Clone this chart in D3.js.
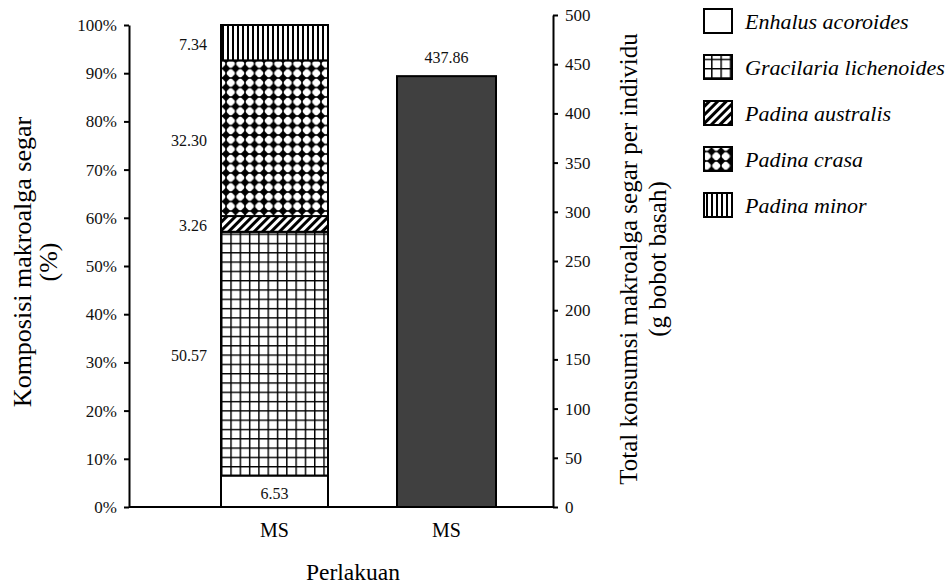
<!DOCTYPE html>
<html><head><meta charset="utf-8">
<script src="https://cdn.jsdelivr.net/npm/d3@7"></script>
<style>body{margin:0;background:#fff}svg{display:block}</style>
</head><body><svg id="c" width="948" height="586"></svg>
<script>
// ---- data ----
const species = ["Enhalus acoroides","Gracilaria lichenoides","Padina australis","Padina crasa","Padina minor"];
const composition = [6.53, 50.57, 3.26, 32.30, 7.34];
const compLabels = ["6.53","50.57","3.26","32.30","7.34"];
const categoryIds = ["komposisi","total"];
const categoryLabels = ["MS","MS"];
const totalConsumption = [437.86];
const totalLabels = ["437.86"];
const leftTicks = [0,10,20,30,40,50,60,70,80,90,100];
const rightTicks = [0,50,100,150,200,250,300,350,400,450,500];
const leftTitle = ["Komposisi makroalga segar","(%)"];
const rightTitle = ["Total konsumsi makroalga segar per individu","(g bobot basah)"];
const xTitle = "Perlakuan";

const svg = d3.select("#c");
const FONT = "'Liberation Serif','Times New Roman',serif";

// scales
const x = d3.scaleBand().domain(categoryIds).range([188.5, 532.5]).padding(0);
const yL = d3.scaleLinear().domain([0,100]).range([507,25]);
const yR = d3.scaleLinear().domain([0,500]).range([507,15]);
const barW = [107, 99];

// patterns
const defs = svg.append("defs");
const pIds = ["pEnh","pGrid","pHatch","pDiam","pVert"];
let p;
p = defs.append("pattern").attr("id","pEnh").attr("patternUnits","userSpaceOnUse").attr("width",10).attr("height",10);
p.append("rect").attr("width",10).attr("height",10).attr("fill","#fff");

p = defs.append("pattern").attr("id","pGrid").attr("patternUnits","userSpaceOnUse").attr("width",9.3).attr("height",9.3).attr("x",221).attr("y",1);
p.append("rect").attr("width",9.3).attr("height",9.3).attr("fill","#fff");
p.append("path").attr("d","M0.7,0V9.3M0,0.7H9.3").attr("stroke","#000").attr("stroke-width",1.5);

p = defs.append("pattern").attr("id","pHatch").attr("patternUnits","userSpaceOnUse").attr("width",6).attr("height",6).attr("patternTransform","rotate(45)");
p.append("rect").attr("width",6).attr("height",6).attr("fill","#fff");
p.append("rect").attr("width",3).attr("height",6).attr("fill","#000");

const D = 9.5, R = 4.4;
p = defs.append("pattern").attr("id","pDiam").attr("patternUnits","userSpaceOnUse").attr("width",D).attr("height",D).attr("x",226).attr("y",2);
p.append("rect").attr("width",D).attr("height",D).attr("fill","#fff");
p.append("path").attr("d",`M0,0H${D}M0,${D}H${D}M0,0V${D}M${D},0V${D}`).attr("stroke","#000").attr("stroke-width",1.4);
[[0,0],[D,0],[0,D],[D,D]].forEach(([a,b]) => {
  p.append("path").attr("d",`M${a-R},${b}L${a},${b-R}L${a+R},${b}L${a},${b+R}Z`).attr("fill","#000");
});

p = defs.append("pattern").attr("id","pVert").attr("patternUnits","userSpaceOnUse").attr("width",5).attr("height",5).attr("x",222);
p.append("rect").attr("width",5).attr("height",5).attr("fill","#fff");
p.append("rect").attr("width",2).attr("height",5).attr("fill","#000");

// stacked bar
const stackData = [Object.fromEntries(species.map((s,i)=>[s,composition[i]]))];
const series = d3.stack().keys(species)(stackData);
const cx0 = x(categoryIds[0]) + x.bandwidth()/2;
const bx0 = cx0 - barW[0]/2;
svg.append("g").selectAll("rect").data(series).join("rect")
  .attr("x", bx0).attr("width", barW[0])
  .attr("y", d => yL(d[0][1])).attr("height", d => yL(d[0][0]) - yL(d[0][1]))
  .attr("fill", (d,i) => `url(#${pIds[i]})`)
  .attr("stroke","#000").attr("stroke-width",2);

// stacked labels
svg.append("g").selectAll("text").data(series).join("text")
  .attr("x", (d,i) => i===0 ? cx0 : bx0 - 14)
  .attr("y", d => (yL(d[0][0]) + yL(d[0][1]))/2 + 2)
  .attr("text-anchor", (d,i) => i===0 ? "middle" : "end")
  .attr("dominant-baseline","central")
  .attr("font-family",FONT).attr("font-size",16).attr("fill","#111")
  .text((d,i) => compLabels[i]);

// total bar
const cx1 = x(categoryIds[1]) + x.bandwidth()/2;
svg.append("g").selectAll("rect").data(totalConsumption).join("rect")
  .attr("x", cx1 - barW[1]/2).attr("width", barW[1])
  .attr("y", d => yR(d)).attr("height", d => yR(0) - yR(d))
  .attr("fill","#404040").attr("stroke","#000").attr("stroke-width",2);
svg.append("g").selectAll("text").data(totalConsumption).join("text")
  .attr("x", cx1).attr("y", d => yR(d) - 19)
  .attr("text-anchor","middle").attr("dominant-baseline","central")
  .attr("font-family",FONT).attr("font-size",16).attr("fill","#111")
  .text((d,i) => totalLabels[i]);

// axes
const gL = svg.append("g").attr("transform","translate(129,0)")
  .call(d3.axisLeft(yL).tickValues(leftTicks).tickFormat(d => d + "%").tickSize(5).tickSizeOuter(0).tickPadding(7));
const gR = svg.append("g").attr("transform","translate(553,0)")
  .call(d3.axisRight(yR).tickValues(rightTicks).tickSize(5).tickSizeOuter(0).tickPadding(7));
const gB = svg.append("g").attr("transform","translate(0,507)")
  .call(d3.axisBottom(x).tickFormat((d,i) => categoryLabels[i]).tickSize(0).tickPadding(16));
gB.select(".domain").attr("d","M129,0H553");
[gL,gR,gB].forEach(g => {
  g.selectAll(".domain").attr("stroke","#000").attr("stroke-width",2);
  g.selectAll(".tick line").attr("stroke","#000").attr("stroke-width",2);
  g.selectAll("text").attr("font-family",FONT).attr("fill","#111");
});
gL.selectAll("text").attr("font-size",17);
gR.selectAll("text").attr("font-size",17);
gB.selectAll("text").attr("font-size",20).attr("fill","#000");

// titles
const tl = svg.append("text").attr("transform","translate(22,262) rotate(-90)")
  .attr("text-anchor","middle").attr("font-family",FONT).attr("font-size",26);
tl.selectAll("tspan").data(leftTitle).join("tspan")
  .attr("x",0).attr("dy",(d,i)=> i===0 ? "0.35em" : 26).text(d=>d);
const tr = svg.append("text").attr("transform","translate(628,259) rotate(-90)")
  .attr("text-anchor","middle").attr("font-family",FONT).attr("font-size",25);
tr.selectAll("tspan").data(rightTitle).join("tspan")
  .attr("x",0).attr("dy",(d,i)=> i===0 ? "0.35em" : 29).text(d=>d);
svg.append("text").attr("x",353).attr("y",580).attr("text-anchor","middle")
  .attr("font-family",FONT).attr("font-size",23.5).text(xTitle);

// legend
const ly = d3.scalePoint().domain(species).range([21,205]);
const lg = svg.append("g").selectAll("g").data(species).join("g")
  .attr("transform", d => `translate(704,${ly(d)})`);
lg.append("rect").attr("x",0).attr("y",-12).attr("width",28).attr("height",24)
  .attr("fill",(d,i)=>`url(#${pIds[i]})`).attr("stroke","#000").attr("stroke-width",2);
lg.append("text").attr("x",41).attr("y",0).attr("dominant-baseline","central")
  .attr("font-family",FONT).attr("font-style","italic").attr("font-size",22).text(d=>d);
</script></body></html>
